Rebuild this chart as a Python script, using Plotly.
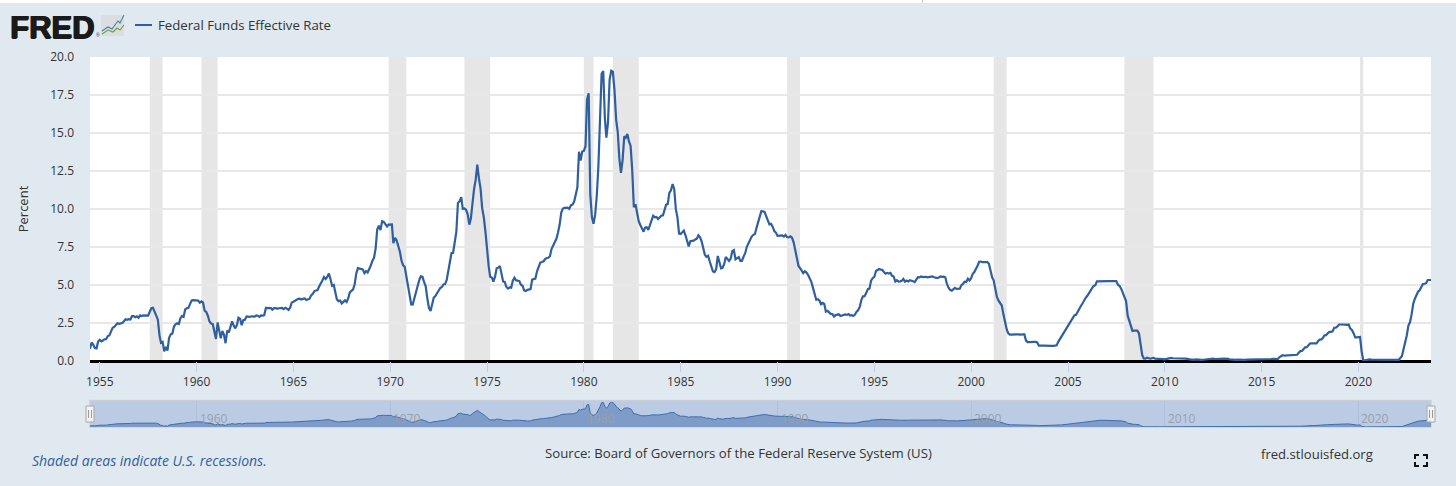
"""
FRED chart: Federal Funds Effective Rate, monthly, 1954-2023, with navigator strip.
"""

import pandas as pd
import plotly.graph_objects as go

BG = '#E1E9F0'
BLUE = '#2F5F9E'
GREY_TEXT = '#333333'
RECESSION = '#E6E6E6'
GRID = '#E8E8E8'
W = 1456
H = 486

START = '1954-07-01'
END = '2023-10-01'

# monthly values, Jul 1954 to Oct 2023
rate_1950s = [
    0.80, 1.22, 1.07, 0.85, 0.83, 1.28,
    1.39, 1.29, 1.35, 1.43, 1.43, 1.64, 1.68, 1.96, 2.18, 2.24, 2.35, 2.48,
    2.45, 2.50, 2.50, 2.62, 2.75, 2.71, 2.75, 2.73, 2.95, 2.96, 2.88, 2.94,
    2.84, 3.00, 2.96, 3.00, 3.00, 3.00, 2.99, 3.24, 3.47, 3.50, 3.28, 2.98,
    2.72, 1.67, 1.20, 1.26, 0.63, 0.93, 0.68, 1.53, 1.76, 1.80, 2.27, 2.42,
    2.48, 2.43, 2.80, 2.96, 2.90, 3.39, 3.47, 3.50, 3.76, 3.98, 4.00, 3.99,
]
rate_1960s = [
    3.99, 3.97, 3.84, 3.92, 3.85, 3.32, 3.23, 2.98, 2.60, 2.47, 2.44, 1.98,
    1.45, 2.54, 2.02, 1.49, 1.98, 1.73, 1.17, 2.00, 1.88, 2.26, 2.61, 2.33,
    2.15, 2.37, 2.85, 2.78, 2.36, 2.68, 2.71, 2.93, 2.90, 2.90, 2.94, 2.93,
    2.92, 3.00, 2.98, 2.90, 3.00, 2.99, 3.02, 3.49, 3.48, 3.50, 3.48, 3.38,
    3.48, 3.48, 3.43, 3.47, 3.50, 3.50, 3.42, 3.50, 3.45, 3.36, 3.52, 3.85,
    3.90, 3.98, 4.04, 4.09, 4.10, 4.04, 4.09, 4.12, 4.01, 4.08, 4.10, 4.32,
    4.42, 4.60, 4.65, 4.67, 4.90, 5.17, 5.30, 5.53, 5.40, 5.53, 5.76, 5.40,
    4.94, 5.00, 4.53, 4.05, 3.94, 3.98, 3.79, 3.90, 3.99, 3.88, 4.13, 4.51,
    4.61, 4.71, 5.05, 5.76, 6.11, 6.07, 6.02, 6.03, 5.78, 5.91, 5.82, 6.02,
    6.30, 6.61, 6.79, 7.41, 8.67, 8.90, 8.61, 9.19, 9.15, 9.00, 8.85, 8.97,
]
rate_1970s = [
    8.98, 8.98, 7.76, 8.10, 7.94, 7.60, 7.21, 6.61, 6.29, 6.20, 5.60, 4.90,
    4.14, 3.72, 3.71, 4.16, 4.63, 4.91, 5.31, 5.57, 5.55, 5.20, 4.91, 4.14,
    3.50, 3.29, 3.83, 4.17, 4.27, 4.46, 4.55, 4.80, 4.87, 5.04, 5.06, 5.33,
    5.94, 6.58, 7.09, 7.12, 7.84, 8.49, 10.40, 10.50, 10.78, 10.01, 10.03, 9.95,
    9.65, 8.97, 9.35, 10.51, 11.31, 11.93, 12.92, 12.01, 11.34, 10.06, 9.45, 8.53,
    7.13, 6.24, 5.54, 5.49, 5.22, 5.55, 6.10, 6.14, 6.24, 5.82, 5.22, 5.20,
    4.87, 4.77, 4.84, 4.82, 5.29, 5.48, 5.31, 5.29, 5.25, 5.02, 4.95, 4.65,
    4.61, 4.68, 4.69, 4.73, 5.35, 5.39, 5.42, 5.90, 6.14, 6.47, 6.51, 6.56,
    6.70, 6.78, 6.79, 6.89, 7.36, 7.60, 7.81, 8.04, 8.45, 8.96, 9.76, 10.03,
    10.07, 10.06, 10.09, 10.01, 10.24, 10.29, 10.47, 10.94, 11.43, 13.77, 13.18, 13.78,
]
rate_1980s = [
    13.82, 14.13, 17.19, 17.61, 10.98, 9.47, 9.03, 9.61, 10.87, 12.81, 15.85, 18.90,
    19.08, 15.93, 14.70, 15.72, 18.52, 19.10, 19.04, 17.82, 15.87, 15.08, 13.31, 12.37,
    13.22, 14.78, 14.68, 14.94, 14.45, 14.15, 12.59, 10.12, 10.31, 9.71, 9.20, 8.95,
    8.68, 8.51, 8.77, 8.80, 8.63, 8.98, 9.37, 9.56, 9.45, 9.48, 9.34, 9.47,
    9.56, 9.59, 9.91, 10.29, 10.32, 11.06, 11.23, 11.64, 11.30, 9.99, 9.43, 8.38,
    8.35, 8.50, 8.58, 8.27, 7.97, 7.53, 7.88, 7.90, 7.92, 7.99, 8.05, 8.27,
    8.14, 7.86, 7.48, 6.99, 6.85, 6.92, 6.56, 6.17, 5.89, 5.85, 6.04, 6.91,
    6.43, 6.10, 6.13, 6.37, 6.85, 6.73, 6.58, 6.73, 7.22, 7.29, 6.69, 6.77,
    6.83, 6.58, 6.58, 6.87, 7.09, 7.51, 7.75, 8.01, 8.19, 8.30, 8.35, 8.76,
    9.12, 9.36, 9.85, 9.84, 9.81, 9.53, 9.24, 8.99, 9.02, 8.84, 8.55, 8.45,
]
rate_1990s = [
    8.23, 8.24, 8.28, 8.26, 8.18, 8.29, 8.15, 8.13, 8.20, 8.11, 7.81, 7.31,
    6.91, 6.25, 6.12, 5.91, 5.78, 5.90, 5.82, 5.66, 5.45, 5.21, 4.81, 4.43,
    4.03, 4.06, 3.98, 3.73, 3.82, 3.76, 3.25, 3.30, 3.22, 3.10, 3.09, 2.92,
    3.02, 3.03, 3.07, 2.96, 3.00, 3.04, 3.06, 3.03, 3.09, 2.99, 3.02, 2.96,
    3.05, 3.25, 3.34, 3.56, 4.01, 4.25, 4.26, 4.47, 4.73, 4.76, 5.29, 5.45,
    5.53, 5.92, 5.98, 6.05, 6.01, 6.00, 5.85, 5.74, 5.80, 5.76, 5.80, 5.60,
    5.56, 5.22, 5.31, 5.22, 5.24, 5.27, 5.40, 5.22, 5.30, 5.24, 5.31, 5.29,
    5.25, 5.19, 5.39, 5.51, 5.50, 5.56, 5.52, 5.54, 5.54, 5.50, 5.52, 5.50,
    5.56, 5.51, 5.49, 5.45, 5.49, 5.56, 5.54, 5.55, 5.51, 5.07, 4.83, 4.68,
    4.63, 4.76, 4.81, 4.74, 4.74, 4.76, 4.99, 5.07, 5.22, 5.20, 5.42, 5.30,
]
rate_2000s = [
    5.45, 5.73, 5.85, 6.02, 6.27, 6.53, 6.54, 6.50, 6.52, 6.51, 6.51, 6.40,
    5.98, 5.49, 5.31, 4.80, 4.21, 3.97, 3.77, 3.65, 3.07, 2.49, 2.09, 1.82,
    1.73, 1.74, 1.73, 1.75, 1.75, 1.75, 1.73, 1.74, 1.75, 1.75, 1.34, 1.24,
    1.24, 1.26, 1.25, 1.26, 1.26, 1.22, 1.01, 1.03, 1.01, 1.01, 1.00, 0.98,
    1.00, 1.01, 1.00, 1.00, 1.00, 1.03, 1.26, 1.43, 1.61, 1.76, 1.93, 2.16,
    2.28, 2.50, 2.63, 2.79, 3.00, 3.04, 3.26, 3.50, 3.62, 3.78, 4.00, 4.16,
    4.29, 4.49, 4.59, 4.79, 4.94, 4.99, 5.24, 5.25, 5.25, 5.25, 5.25, 5.24,
    5.25, 5.26, 5.26, 5.25, 5.25, 5.25, 5.26, 5.02, 4.94, 4.76, 4.49, 4.24,
    3.94, 2.98, 2.61, 2.28, 1.98, 2.00, 2.01, 2.00, 1.81, 0.97, 0.39, 0.16,
    0.15, 0.22, 0.18, 0.15, 0.18, 0.21, 0.16, 0.16, 0.15, 0.12, 0.12, 0.12,
]
rate_2010s = [
    0.11, 0.13, 0.16, 0.20, 0.20, 0.18, 0.18, 0.19, 0.19, 0.19, 0.19, 0.18,
    0.17, 0.16, 0.14, 0.10, 0.09, 0.09, 0.07, 0.10, 0.08, 0.07, 0.08, 0.07,
    0.08, 0.10, 0.13, 0.14, 0.16, 0.16, 0.16, 0.13, 0.14, 0.16, 0.16, 0.16,
    0.14, 0.15, 0.14, 0.15, 0.11, 0.09, 0.09, 0.08, 0.08, 0.09, 0.08, 0.09,
    0.07, 0.07, 0.08, 0.09, 0.09, 0.10, 0.09, 0.09, 0.09, 0.09, 0.09, 0.12,
    0.11, 0.11, 0.11, 0.12, 0.12, 0.13, 0.13, 0.14, 0.14, 0.12, 0.12, 0.24,
    0.34, 0.38, 0.36, 0.37, 0.37, 0.38, 0.39, 0.40, 0.40, 0.40, 0.41, 0.54,
    0.65, 0.66, 0.79, 0.90, 0.91, 1.04, 1.15, 1.16, 1.15, 1.15, 1.16, 1.30,
    1.41, 1.42, 1.51, 1.69, 1.70, 1.82, 1.91, 1.91, 1.95, 2.19, 2.20, 2.27,
    2.40, 2.40, 2.41, 2.42, 2.39, 2.38, 2.40, 2.13, 2.04, 1.83, 1.55, 1.55,
]
rate_2020s = [
    1.55, 1.58, 0.65, 0.05, 0.05, 0.08, 0.09, 0.10, 0.09, 0.09, 0.09, 0.09,
    0.09, 0.08, 0.07, 0.07, 0.06, 0.08, 0.10, 0.09, 0.08, 0.08, 0.08, 0.08,
    0.08, 0.08, 0.20, 0.33, 0.77, 1.21, 1.68, 2.33, 2.56, 3.08, 3.78, 4.10,
    4.33, 4.57, 4.65, 4.83, 5.06, 5.08, 5.12, 5.33, 5.33, 5.33,
]

recession_start = ['1957-08-01', '1960-04-01', '1969-12-01', '1973-11-01', '1980-01-01',
                   '1981-07-01', '1990-07-01', '2001-03-01', '2007-12-01', '2020-02-01']
recession_end = ['1958-04-01', '1961-02-01', '1970-11-01', '1975-03-01', '1980-07-01',
                 '1982-11-01', '1991-03-01', '2001-11-01', '2009-06-01', '2020-04-01']

y_ticks = [0, 2.5, 5, 7.5, 10, 12.5, 15, 17.5, 20]
nav_years = [1960, 1970, 1980, 1990, 2000, 2010, 2020]

rate = rate_1950s + rate_1960s + rate_1970s + rate_1980s + rate_1990s + rate_2000s + rate_2010s + rate_2020s
dates = pd.date_range(START, periods=len(rate), freq='MS')


def px(x):
    return x / W


def py(y):
    return 1 - y / H


def rect(x0, y0, x1, y1, fill, line=None, width=1):
    return dict(type='rect', xref='paper', yref='paper', x0=px(x0), x1=px(x1), y0=py(y0), y1=py(y1),
                fillcolor=fill, line=dict(color=line or fill, width=width if line else 0), layer='above')


def path(points, color, width=1.2):
    d = 'M' + ' L'.join(f'{px(a):.5f},{py(b):.5f}' for a, b in points)
    return dict(type='path', xref='paper', yref='paper', path=d, line=dict(color=color, width=width), layer='above')


def label(text, x, y, size=12, color=GREY_TEXT, anchor='left', family='Open Sans', **kw):
    return dict(text=text, xref='paper', yref='paper', x=px(x), y=py(y), xanchor=anchor, yanchor='middle',
                showarrow=False, font=dict(family=family, size=size, color=color, **kw))


fig = go.Figure()

fig.add_trace(go.Scatter(x=dates, y=rate, mode='lines', name='Federal Funds Effective Rate',
                         line=dict(color=BLUE, width=2.2), xaxis='x', yaxis='y', showlegend=False))
fig.add_trace(go.Scatter(x=dates, y=rate, mode='lines', fill='tozeroy', fillcolor='#7F9BC8',
                         line=dict(color='#3F6DAE', width=1), xaxis='x2', yaxis='y2',
                         showlegend=False, hoverinfo='skip'))

shapes = []
for s, e in zip(recession_start, recession_end):
    shapes.append(dict(type='rect', xref='x', yref='y', x0=s, x1=e, y0=0, y1=20,
                       fillcolor=RECESSION, line=dict(width=0), layer='below'))

# top strip of the page
shapes.append(rect(0, 0, W, 3, 'white'))
shapes.append(rect(922, 0, 923, 3, '#CCCCCC'))

# navigator band
shapes.append(dict(type='rect', xref='x2 domain', yref='y2 domain', x0=0, x1=1, y0=0, y1=1,
                   fillcolor='#BBCBE3', line=dict(color='#C8CFD9', width=1.5), layer='below'))
for hx in [90, 1431]:
    shapes.append(rect(hx - 4, 406, hx + 4, 422, '#F2F2F2', '#A8A8A8', 1))
    shapes.append(path([(hx - 1.5, 410), (hx - 1.5, 418)], '#999999', 1))
    shapes.append(path([(hx + 1.5, 410), (hx + 1.5, 418)], '#999999', 1))

# legend key and the FRED icon
shapes.append(path([(135, 25), (152, 25)], BLUE, 2))
shapes.append(rect(101, 15, 124, 36, '#DADEE1'))
shapes.append(path([(102, 31), (108, 27), (112, 29), (118, 21), (120, 23), (124, 15)], '#4A7FB0', 1.1))
shapes.append(path([(102, 34), (108, 30), (113, 32), (117, 28), (120, 30), (124, 25)], '#6FA03C', 1.1))

# fullscreen icon
for cx, cy, dx, dy in [(1415, 455, 1, 1), (1427, 455, -1, 1), (1415, 466, 1, -1), (1427, 466, -1, -1)]:
    shapes.append(path([(cx + dx * 4, cy), (cx, cy), (cx, cy + dy * 4)], '#111111', 2))

annotations = [
    label('<b>FRED</b>', 8, 27, size=31, color='#1A1A1A', family='Liberation Sans',
          shadow='1px 0 0 #1A1A1A, -0.5px 0 0 #1A1A1A, 0 0.5px 0 #1A1A1A'),
    label('®', 94, 35, size=5, color='#333333', family='Liberation Sans'),
    label('Federal Funds Effective Rate', 156, 25, size=13.2),
    label('Source: Board of Governors of the Federal Reserve System (US)', 738, 453, size=13.2, anchor='center'),
    label('fred.stlouisfed.org', 1259, 454, size=13.1),
    label('<i>Shaded areas indicate U.S. recessions.</i>', 30, 460, size=14, color='#2F5F9E'),
]
for yr in nav_years:
    annotations.append(dict(text=str(yr), xref='x2', yref='paper', x=f'{yr}-01-01', y=py(418), xanchor='left',
                            yanchor='middle', xshift=1, showarrow=False,
                            font=dict(family='Open Sans', size=12, color='#9AA0AC')))

fig.update_layout(
    width=W,
    height=H,
    margin=dict(l=0, r=0, t=0, b=0, autoexpand=False),
    paper_bgcolor=BG,
    plot_bgcolor='white',
    font=dict(family='Open Sans', size=12, color=GREY_TEXT),
    shapes=shapes,
    annotations=annotations,
    xaxis=dict(
        domain=[px(90), px(1431)],
        range=[START, END],
        type='date',
        tick0='1955-01-01',
        dtick='M60',
        tickformat='%Y',
        ticks='outside',
        ticklen=10,
        tickcolor='#C0D0E0',
        showgrid=False,
        showline=False,
        zeroline=False,
        anchor='y',
    ),
    yaxis=dict(
        domain=[py(361), py(57)],
        range=[0, 20],
        tickvals=y_ticks,
        tickformat='.1f',
        gridcolor=GRID,
        gridwidth=1.5,
        zeroline=True,
        zerolinecolor='black',
        zerolinewidth=2.5,
        ticks='',
        ticklabelstandoff=15,
        title=dict(text='Percent', font=dict(size=13, color=GREY_TEXT), standoff=18),
        automargin=False,
        anchor='x',
    ),
    xaxis2=dict(
        domain=[px(90), px(1431)],
        range=[START, END],
        type='date',
        tick0='1960-01-01',
        dtick='M120',
        showticklabels=False,
        showgrid=True,
        gridcolor='#B0C0DC',
        zeroline=False,
        anchor='y2',
    ),
    yaxis2=dict(
        domain=[py(427), py(400.5)],
        range=[0, 20.6],
        visible=False,
        anchor='x2',
    ),
)

fig.write_html("out.html", config=dict(displayModeBar=False),
               post_script="document.body.style.margin='0';document.body.style.overflow='hidden';")
